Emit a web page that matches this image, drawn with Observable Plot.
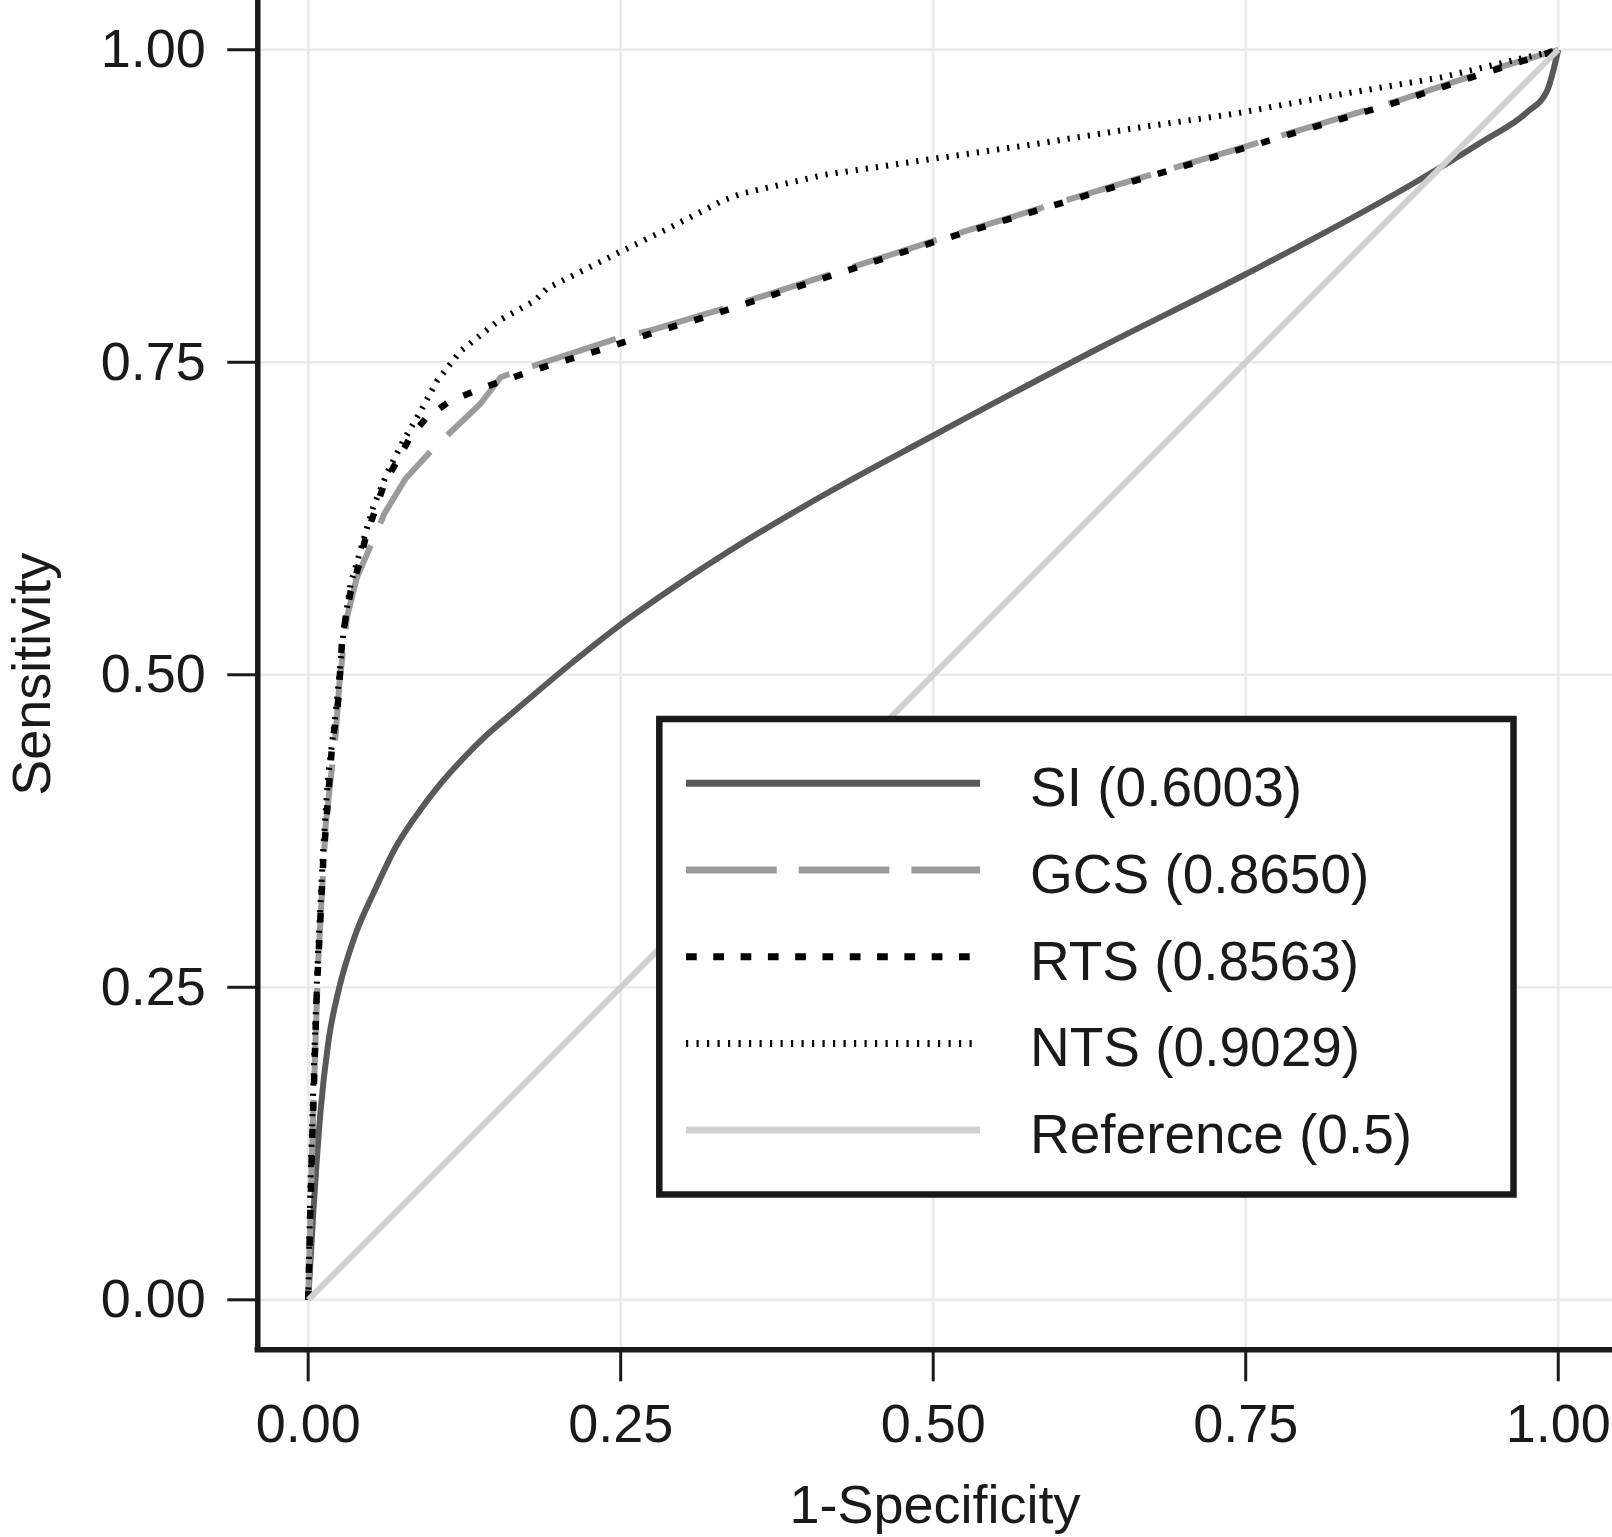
<!DOCTYPE html>
<html><head><meta charset="utf-8">
<script src="https://cdn.jsdelivr.net/npm/d3@7"></script>
<script src="https://cdn.jsdelivr.net/npm/@observablehq/plot@0.6"></script>
<style>
body{margin:0;background:#fff}
#chart{position:relative;width:1612px;height:1537px;overflow:hidden}
</style>
</head><body><div id="chart"></div>
<script>
// ---- data ----
const seriesNames = ["SI", "GCS", "RTS", "NTS", "Reference"];
const aucValues = ["0.6003", "0.8650", "0.8563", "0.9029", "0.5"];
const tickValues = [0, 0.25, 0.5, 0.75, 1];

const siFpr = [0, 0.004, 0.0099, 0.0164, 0.0247, 0.037, 0.0535, 0.07, 0.0905, 0.106, 0.123, 0.143, 0.164, 0.214, 0.247, 0.288, 0.329, 0.411, 0.4975, 0.634, 0.751, 0.884, 0.940, 0.975, 0.991, 1];
const siTpr = [0, 0.068, 0.151, 0.208, 0.249, 0.290, 0.328, 0.362, 0.393, 0.413, 0.432, 0.452, 0.470, 0.512, 0.538, 0.567, 0.594, 0.643, 0.690, 0.762, 0.821, 0.893, 0.927, 0.950, 0.967, 1];

const gcsFpr = [0, 0.004, 0.008, 0.014, 0.022, 0.025, 0.031, 0.039, 0.053, 0.061, 0.078, 0.101, 0.117, 0.138, 0.154, 0.168, 0.186, 0.253, 0.272, 0.339, 0.5, 0.634, 0.751, 0.874, 0.940, 1];
const gcsTpr = [0, 0.15, 0.27, 0.38, 0.453, 0.493, 0.546, 0.578, 0.610, 0.629, 0.657, 0.682, 0.697, 0.717, 0.738, 0.743, 0.749, 0.771, 0.775, 0.795, 0.847, 0.888, 0.923, 0.960, 0.982, 1];

const rtsFpr = [0, 0.003, 0.007, 0.012, 0.019, 0.024, 0.027, 0.030, 0.034, 0.041, 0.046, 0.053, 0.061, 0.070, 0.081, 0.094, 0.112, 0.133, 0.152, 0.173, 0.194, 0.234, 0.277, 0.317, 0.5, 0.634, 0.751, 0.874, 0.940, 1];
const rtsTpr = [0, 0.12, 0.25, 0.35, 0.442, 0.479, 0.525, 0.546, 0.567, 0.589, 0.610, 0.630, 0.653, 0.669, 0.689, 0.705, 0.718, 0.727, 0.734, 0.741, 0.748, 0.760, 0.774, 0.786, 0.846, 0.887, 0.922, 0.959, 0.981, 1];

const ntsFpr = [0, 0.002, 0.005, 0.008, 0.012, 0.016, 0.019, 0.023, 0.028, 0.034, 0.044, 0.052, 0.063, 0.076, 0.090, 0.103, 0.122, 0.152, 0.181, 0.191, 0.249, 0.290, 0.331, 0.347, 0.413, 0.495, 0.578, 0.660, 0.742, 0.824, 0.907, 1];
const ntsTpr = [0, 0.10, 0.20, 0.28, 0.36, 0.42, 0.444, 0.479, 0.533, 0.573, 0.607, 0.634, 0.661, 0.687, 0.711, 0.735, 0.759, 0.783, 0.799, 0.809, 0.838, 0.858, 0.879, 0.885, 0.900, 0.912, 0.924, 0.937, 0.949, 0.964, 0.978, 1];

const refFpr = [0, 1];
const refTpr = [0, 1];

// ---- build tables ----
const curves = {
  SI: siFpr.map((x, i) => ({x, y: siTpr[i]})),
  GCS: gcsFpr.map((x, i) => ({x, y: gcsTpr[i]})),
  RTS: rtsFpr.map((x, i) => ({x, y: rtsTpr[i]})),
  NTS: ntsFpr.map((x, i) => ({x, y: ntsTpr[i]})),
  Reference: refFpr.map((x, i) => ({x, y: refTpr[i]}))
};

const styles = {
  SI:        {stroke: "#595959", strokeWidth: 6, dash: null, curve: "monotone-x", lw: 7, ldash: null},
  GCS:       {stroke: "#9b9b9b", strokeWidth: 6, dash: "88,24", curve: "linear", lw: 7, ldash: "90.7,22"},
  RTS:       {stroke: "#000000", strokeWidth: 6.5, dash: "9,18", curve: "linear", lw: 7, ldash: "10.7,16.6"},
  NTS:       {stroke: "#000000", strokeWidth: 6, dash: "2.2,8", curve: "linear", lw: 7, ldash: "2.2,8.3"},
  Reference: {stroke: "#d0d0d0", strokeWidth: 6, dash: null, curve: "linear", lw: 7, ldash: null}
};

const W = 1612, H = 1537;
const xDom = [-0.0403, 1.0434];
const yDom = [-0.04, 1.0394];
const ink = "#1a1a1a";
const font = "'Liberation Sans', Arial, Helvetica, sans-serif";

const lineMarks = seriesNames.map(name => {
  const s = styles[name];
  const opts = {x: "x", y: "y", stroke: s.stroke, strokeWidth: s.strokeWidth, curve: s.curve,
    strokeLinejoin: "round", strokeLinecap: "butt"};
  if (s.dash) opts.strokeDasharray = s.dash;
  return Plot.line(curves[name], opts);
});

const plot = Plot.plot({
  width: W, height: H,
  marginLeft: 257.3, marginRight: 0, marginTop: 0, marginBottom: 187.7,
  x: {domain: xDom},
  y: {domain: yDom},
  style: {fontFamily: font, background: "#fff", color: ink, overflow: "visible"},
  marks: [
    Plot.gridX(tickValues, {stroke: "#ebebeb", strokeOpacity: 1, strokeWidth: 2.7}),
    Plot.gridY(tickValues, {stroke: "#ebebeb", strokeOpacity: 1, strokeWidth: 2.7}),
    ...lineMarks,
    Plot.ruleX([xDom[0]], {stroke: ink, strokeWidth: 5.5, strokeLinecap: "square"}),
    Plot.ruleY([yDom[0]], {stroke: ink, strokeWidth: 5.5, strokeLinecap: "square"}),
    Plot.axisX(tickValues, {tickFormat: d3.format(".2f"), tickSize: 32, tickPadding: 22,
      fontSize: 54, stroke: ink, strokeWidth: 3, fill: ink, label: null}),
    Plot.axisY(tickValues, {tickFormat: d3.format(".2f"), tickSize: 30, tickPadding: 22,
      fontSize: 54, stroke: ink, strokeWidth: 3, fill: ink, label: null})
  ]
});

document.getElementById("chart").appendChild(plot);

// ---- axis titles & legend (drawn into the same svg) ----
const svg = d3.select(plot);
svg.append("text").text("1-Specificity")
  .attr("x", 935).attr("y", 1523.3).attr("text-anchor", "middle")
  .attr("font-size", 54).attr("font-family", font).attr("fill", ink);
svg.append("text").text("Sensitivity")
  .attr("transform", "translate(50,674.3) rotate(-90)").attr("text-anchor", "middle")
  .attr("font-size", 54).attr("font-family", font).attr("fill", ink);

const lg = svg.append("g");
lg.append("rect").attr("x", 659.3).attr("y", 719).attr("width", 854.2).attr("height", 475.5)
  .attr("fill", "#fff").attr("stroke", ink).attr("stroke-width", 6.5);
const rowY0 = 783.3, rowStep = 86.7;
seriesNames.forEach((name, i) => {
  const s = styles[name];
  const y = rowY0 + i * rowStep;
  const ln = lg.append("line").attr("x1", 686).attr("x2", 980).attr("y1", y).attr("y2", y)
    .attr("stroke", s.stroke).attr("stroke-width", s.lw);
  if (s.ldash) ln.attr("stroke-dasharray", s.ldash);
  lg.append("text").text(`${name} (${aucValues[i]})`)
    .attr("x", 1030).attr("y", y + 23).attr("font-size", 55).attr("text-anchor", "start")
    .attr("font-family", font).attr("fill", ink);
});
</script></body></html>
